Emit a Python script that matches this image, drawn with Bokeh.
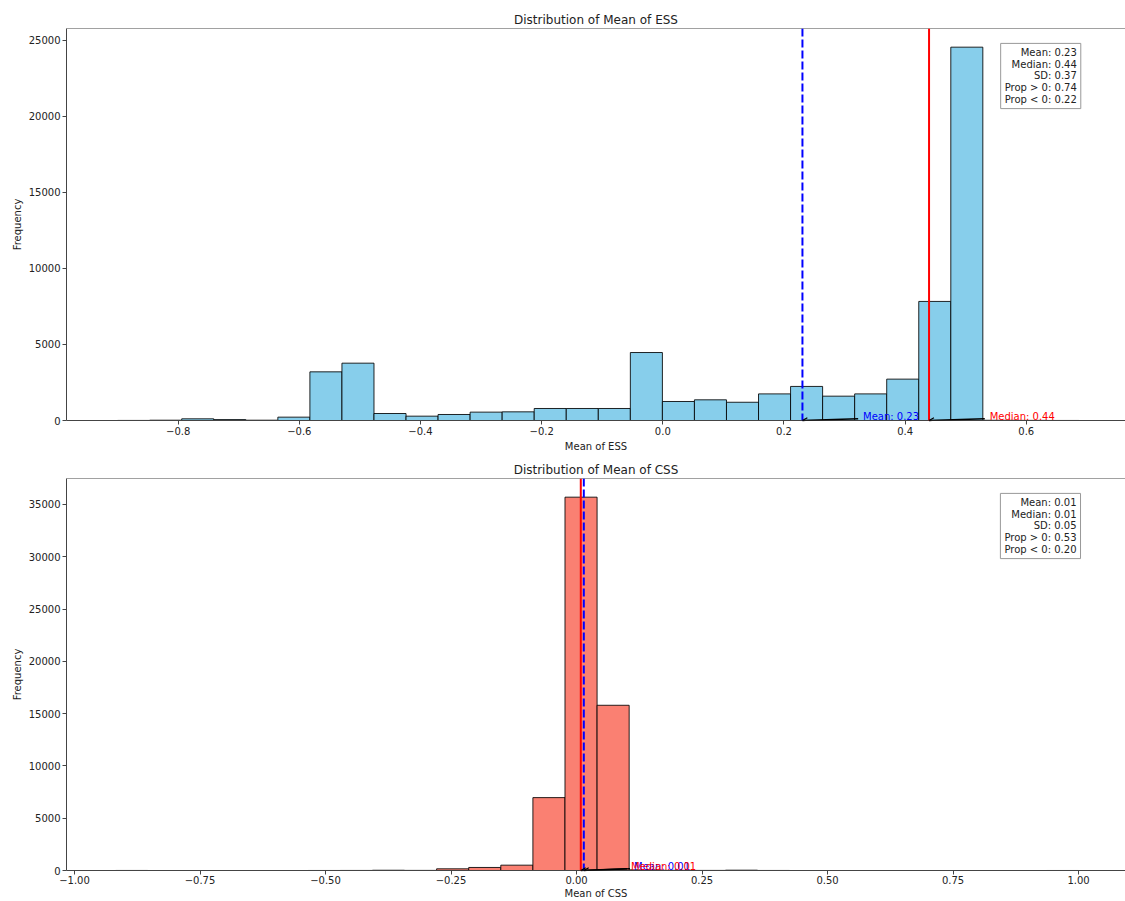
from bokeh.plotting import figure
from bokeh.layouts import column
from bokeh.models import FixedTicker, Span, Label, Arrow, OpenHead, Range1d
from bokeh.embed import file_html
from bokeh.resources import INLINE
from bokeh.core.properties import value

FONT = "DejaVu Sans"

# ---------------- data ----------------
# ESS histogram (30 equal-width bins)
ess_bin_start = -0.900
ess_bin_width = 0.0529
ess_counts = [5, 20, 110, 60, 20, 220, 3200, 3770, 460, 285,
              395, 550, 570, 790, 790, 790, 4470, 1250, 1360, 1200,
              1750, 2240, 1600, 1750, 2720, 7830, 24550, 15, 8, 3]
ess_mean = 0.2305
ess_median = 0.4395
ess_stat_names = ["Mean", "Median", "SD", "Prop > 0", "Prop < 0"]
ess_stat_values = [0.23, 0.44, 0.37, 0.74, 0.22]

# CSS histogram (30 equal-width bins)
css_bin_start = -0.918
css_bin_width = 0.06393
css_counts = [3, 0, 0, 0, 0, 0, 2, 5, 25, 10,
              160, 290, 510, 6970, 35700, 15800, 60, 20, 8, 30,
              3, 0, 0, 0, 0, 0, 0, 0, 0, 1]
css_mean = 0.0145
css_median = 0.0085
css_stat_names = ["Mean", "Median", "SD", "Prop > 0", "Prop < 0"]
css_stat_values = [0.01, 0.01, 0.05, 0.53, 0.20]

ess_xticks = [-0.8, -0.6, -0.4, -0.2, 0.0, 0.2, 0.4, 0.6]
ess_xtick_labels = ["\u22120.8", "\u22120.6", "\u22120.4", "\u22120.2", "0.0", "0.2", "0.4", "0.6"]
ess_yticks = [0, 5000, 10000, 15000, 20000, 25000]
css_xticks = [-1.0, -0.75, -0.5, -0.25, 0.0, 0.25, 0.5, 0.75, 1.0]
css_xtick_labels = ["\u22121.00", "\u22120.75", "\u22120.50", "\u22120.25", "0.00", "0.25", "0.50", "0.75", "1.00"]
css_yticks = [0, 5000, 10000, 15000, 20000, 25000, 30000, 35000]


def make_hist(title, xlabel, start, width, counts, color, xr, xticks, xlabels,
              yticks, mean, median, names, vals, box_x, height, b_left, b_top, b_bottom,
              x_label_standoff, x_axis_label_standoff):
    n = len(counts)
    lefts = [start + i * width for i in range(n)]
    rights = [start + (i + 1) * width for i in range(n)]
    ytop = max(counts) * 1.05
    p = figure(width=1125, height=height, x_range=Range1d(*xr), y_range=Range1d(0, ytop),
               output_backend="svg", toolbar_location=None, title=title,
               min_border_left=b_left, min_border_right=0, min_border_top=b_top,
               min_border_bottom=b_bottom)
    p.title.align = "center"
    p.title.text_font = FONT
    p.title.text_font_size = "12px"
    p.title.text_font_style = "normal"
    p.title.text_color = "#222222"
    p.title.standoff = 3
    p.grid.visible = False
    p.outline_line_color = None
    p.background_fill_color = "white"
    p.border_fill_color = "white"

    for ax in (p.xaxis, p.yaxis):
        ax.axis_line_color = "#444444"
        ax.major_tick_line_color = "#444444"
        ax.minor_tick_line_color = None
        ax.major_tick_out = 4
        ax.major_tick_in = 0
        ax.major_label_text_font = FONT
        ax.major_label_text_font_size = "10px"
        ax.major_label_text_color = "#222222"
        ax.axis_label_text_font = FONT
        ax.axis_label_text_font_size = "10px"
        ax.axis_label_text_font_style = "normal"
        ax.axis_label_text_color = "#222222"
        ax.major_label_standoff = 2
        ax.axis_label_standoff = 3
    p.xaxis.major_label_standoff = x_label_standoff
    p.xaxis.axis_label_standoff = x_axis_label_standoff
    p.xaxis.ticker = FixedTicker(ticks=xticks)
    p.xaxis.major_label_overrides = dict(zip(xticks, xlabels))
    p.yaxis.ticker = FixedTicker(ticks=yticks)
    p.yaxis.major_label_overrides = {t: str(t) for t in yticks}
    p.xaxis.axis_label = xlabel
    p.yaxis.axis_label = "Frequency"

    # top spine
    p.add_layout(Span(location=ytop, dimension="width", line_color="#444444", line_width=1))

    p.quad(left=lefts, right=rights, bottom=0, top=counts, fill_color=color,
           line_color="black", line_width=1, line_alpha=0.85)

    p.add_layout(Span(location=mean, dimension="height", line_color="blue",
                      line_dash="8 3", line_width=2))
    p.add_layout(Span(location=median, dimension="height", line_color="red", line_width=2))

    ty = ytop * 0.0105
    for v, lbl, c in ((mean, "Mean", "blue"), (median, "Median", "red")):
        p.add_layout(Arrow(end=OpenHead(size=5, line_width=1.2, line_color="black"),
                           x_start=v + 0.1 - 0.008, y_start=ty * 0.45, x_end=v, y_end=0,
                           line_color="black", line_width=1.5))
        p.text(x=[v + 0.1], y=[ty], text=[f"{lbl}: {v:.2f}"], text_color=c,
               text_font=value(FONT), text_font_size="10px", text_baseline="middle",
               text_align="left")

    stats = "\n".join(f"{nm}: {vv:.2f}" for nm, vv in zip(names, vals))
    p.add_layout(Label(x=box_x, y=ytop * 0.962, text=stats, text_align="right",
                       text_baseline="top", text_font=FONT, text_font_size="10px",
                       text_color="#222222", text_line_height=1.05,
                       background_fill_color="white", background_fill_alpha=0.85,
                       border_line_color="#999999", border_line_width=1, padding=4))
    return p


p1 = make_hist("Distribution of Mean of ESS", "Mean of ESS", ess_bin_start, ess_bin_width,
               ess_counts, "#87CEEB", (-0.9844, 0.7638), ess_xticks, ess_xtick_labels,
               ess_yticks, ess_mean, ess_median, ess_stat_names, ess_stat_values,
               0.690, 454, 63, 28, 32, 2, 3)
p2 = make_hist("Distribution of Mean of CSS", "Mean of CSS", css_bin_start, css_bin_width,
               css_counts, "#FA8072", (-1.016, 1.0936), css_xticks, css_xtick_labels,
               css_yticks, css_mean, css_median, css_stat_names, css_stat_values,
               1.004, 447, 66, 24, 31, 1, 1)

layout = column(p1, p2)
open("out.html", "w").write(file_html(layout, INLINE))
